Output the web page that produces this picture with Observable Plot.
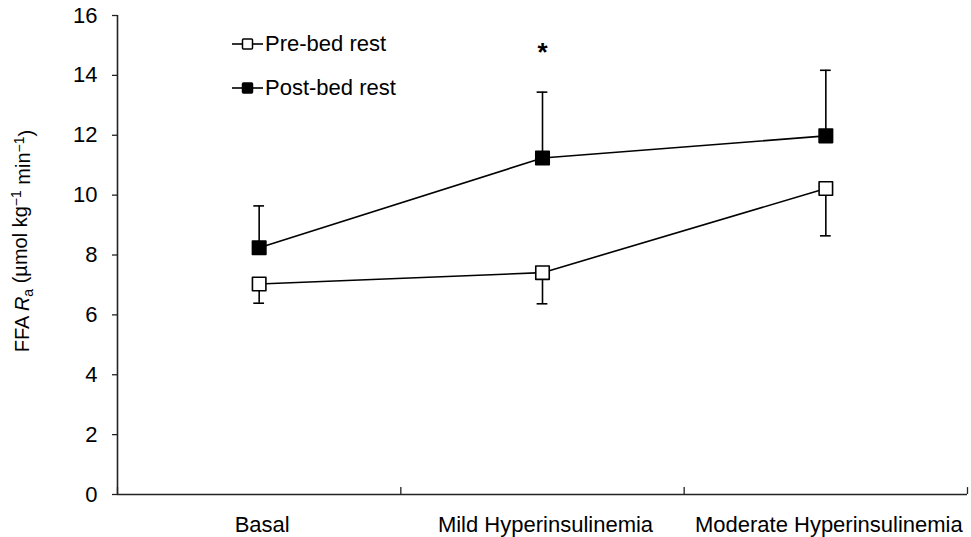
<!DOCTYPE html>
<html><head><meta charset="utf-8">
<script src="https://cdn.jsdelivr.net/npm/d3@7"></script>
<script src="https://cdn.jsdelivr.net/npm/@observablehq/plot@0.6"></script>
<style>
html,body{margin:0;padding:0;background:#fff;font-family:"Liberation Sans",Arial,sans-serif;overflow:hidden;}
#wrap{position:relative;width:971px;height:537px;}
#wrap > svg{display:block;}
.item{position:absolute;left:232px;height:26px;display:flex;align-items:center;white-space:nowrap;font-size:22px;color:#000;}
.item svg{display:block;margin-right:2px;}
</style></head><body><div id="wrap"></div>
<script>
const categories = ["Basal", "Mild Hyperinsulinemia", "Moderate Hyperinsulinemia"];
const seriesNames = ["Pre-bed rest", "Post-bed rest"];
const preMean = [7.03, 7.41, 10.22];
const preSE = [0.64, 1.04, 1.58];
const postMean = [8.24, 11.24, 11.98];
const postSE = [1.40, 2.20, 2.19];
const yTicks = [0, 2, 4, 6, 8, 10, 12, 14, 16];
const significance = [{category: "Mild Hyperinsulinemia", label: "*", y: 14.75}];

const pos = c => categories.indexOf(c) + 0.5;
const centers = categories.map(pos);
const boundaries = d3.range(categories.length + 1);

const rows = [];
categories.forEach((c, i) => {
  rows.push({series: seriesNames[0], category: c, x: pos(c), y: preMean[i], end: preMean[i] - preSE[i]});
  rows.push({series: seriesNames[1], category: c, x: pos(c), y: postMean[i], end: postMean[i] + postSE[i]});
});
const pre = rows.filter(d => d.series === seriesNames[0]);
const post = rows.filter(d => d.series === seriesNames[1]);
const capHalf = 0.019;

const chart = Plot.plot({
  width: 971, height: 537,
  marginLeft: 117, marginRight: 4, marginTop: 15, marginBottom: 43,
  style: {fontFamily: "Liberation Sans, Arial, sans-serif", fontSize: "22px", color: "#000", background: "#fff"},
  x: {domain: [0, categories.length], axis: null},
  y: {domain: [0, 16], axis: null},
  marks: [
    Plot.axisY({ticks: yTicks, tickSize: 5, tickPadding: 15, label: null, tickFormat: d => String(d), stroke: "#222", strokeWidth: 1.3}),
    Plot.axisX({ticks: centers, tickFormat: d => categories[Math.round(d - 0.5)], tickSize: 0, tickPadding: 22, dx: 3, label: null}),
    Plot.ruleX(boundaries, {x: d => d, y1: 0, y2: 0.23, stroke: "#222", strokeWidth: 1.3}),
    Plot.ruleX([0], {stroke: "#222", strokeWidth: 1.6}),
    Plot.ruleY([0], {x1: 0, x2: categories.length, stroke: "#222", strokeWidth: 1.6}),
    Plot.ruleX(rows, {x: "x", y1: "y", y2: "end", stroke: "#000", strokeWidth: 1.6}),
    Plot.ruleY(rows, {y: "end", x1: d => d.x - capHalf, x2: d => d.x + capHalf, stroke: "#000", strokeWidth: 1.6}),
    Plot.line(rows, {x: "x", y: "y", z: "series", stroke: "#000", strokeWidth: 1.6}),
    Plot.dot(pre, {x: "x", y: "y", symbol: "square", r: 7.6, fill: "#fff", stroke: "#000", strokeWidth: 1.6, strokeLinejoin: "round"}),
    Plot.dot(post, {x: "x", y: "y", symbol: "square", r: 7.6, fill: "#000", stroke: "#000", strokeWidth: 1.6, strokeLinejoin: "round"}),
    Plot.text(significance, {x: d => pos(d.category), y: "y", text: "label", fontSize: 26, fontWeight: "bold", fill: "#000"})
  ]
});

const svg = d3.select(chart);
const lab = svg.append("text")
  .attr("transform", "translate(22,241) rotate(-90)")
  .attr("text-anchor", "middle")
  .attr("dy", "0.35em")
  .attr("font-size", 20)
  .attr("fill", "#000");
lab.append("tspan").text("FFA ");
lab.append("tspan").attr("font-style", "italic").text("R");
lab.append("tspan").attr("font-size", 14).attr("dy", "0.3em").text("a");
lab.append("tspan").attr("dy", "-0.3em").text(" (µmol kg");
lab.append("tspan").attr("font-size", 14).attr("dy", "-0.45em").text("−1");
lab.append("tspan").attr("dy", "0.45em").text(" min");
lab.append("tspan").attr("font-size", 14).attr("dy", "-0.45em").text("−1");
lab.append("tspan").attr("dy", "0.45em").text(")");

const wrap = document.getElementById("wrap");
wrap.appendChild(chart);

const legendTops = [31, 75];
seriesNames.forEach((name, i) => {
  const div = document.createElement("div");
  div.className = "item";
  div.style.top = legendTops[i] + "px";
  const fill = i === 0 ? "#fff" : "#000";
  div.innerHTML = `<svg width="31" height="14"><line x1="0" x2="31" y1="7" y2="7" stroke="#000" stroke-width="1.6"/><rect x="10.5" y="2" width="10" height="10" fill="${fill}" stroke="#000" stroke-width="1.5" rx="1"/></svg><span>${name}</span>`;
  wrap.appendChild(div);
});
</script></body></html>
